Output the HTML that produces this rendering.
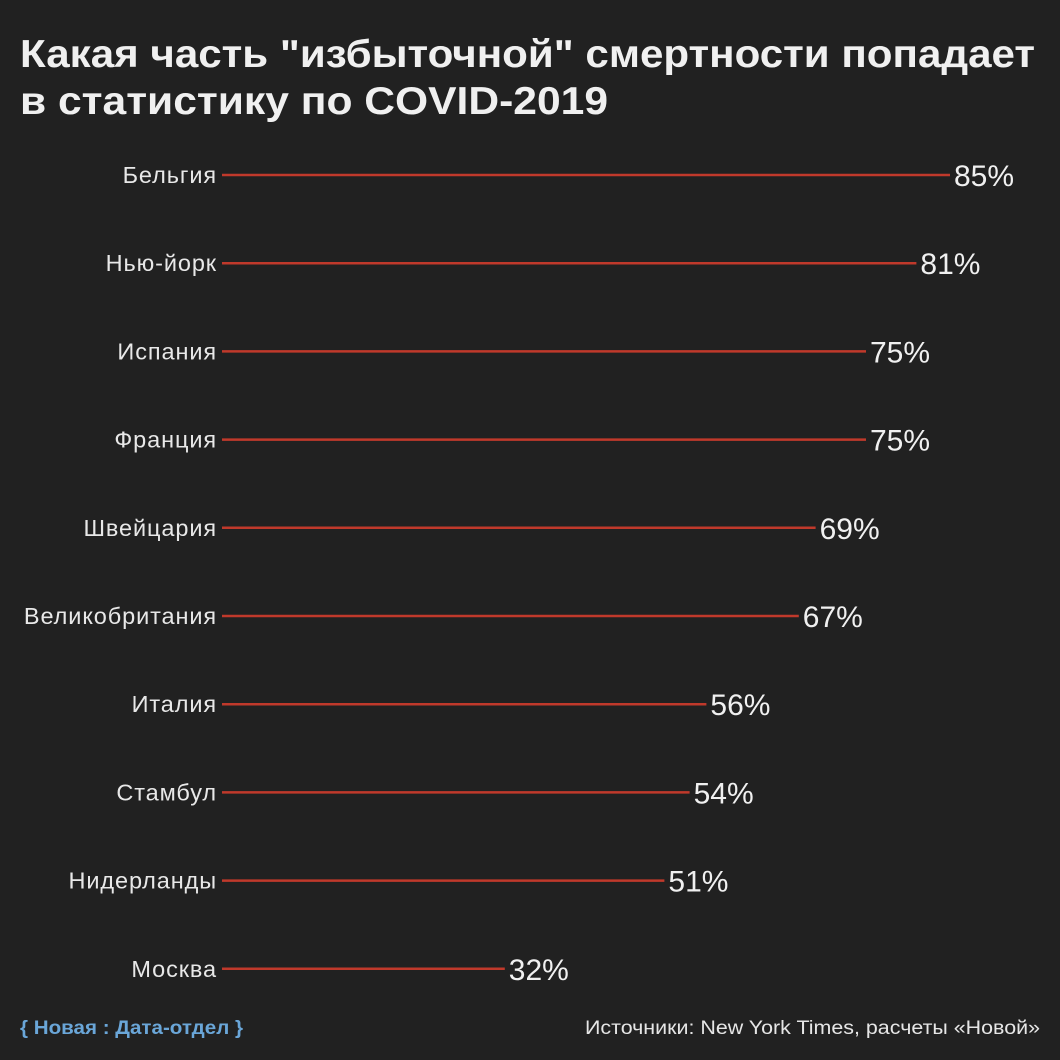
<!DOCTYPE html>
<html><head><meta charset="utf-8"><style>
body{margin:0;background:#212121;}
svg{display:block;font-family:"Liberation Sans","DejaVu Sans",sans-serif;}
</style></head><body>
<svg id="chart" width="1060" height="1060">
<rect width="1060" height="1060" fill="#212121"/>
<text x="20" y="67" font-size="39" font-weight="bold" fill="#f0f0f0" textLength="1015" lengthAdjust="spacingAndGlyphs">Какая часть "избыточной" смертности попадает</text>
<text x="20" y="114" font-size="39" font-weight="bold" fill="#f0f0f0" textLength="588" lengthAdjust="spacingAndGlyphs">в статистику по COVID-2019</text>
<g id="rows"></g>
<text x="20" y="1034" font-size="19" font-weight="bold" fill="#6aa6d8" textLength="223" lengthAdjust="spacingAndGlyphs">{ Новая : Дата-отдел }</text>
<text x="585" y="1034" font-size="19" fill="#e6e6e6" textLength="455" lengthAdjust="spacingAndGlyphs">Источники: New York Times, расчеты «Новой»</text>
</svg>
<script>
const categories=["Бельгия","Нью-йорк","Испания","Франция","Швейцария","Великобритания","Италия","Стамбул","Нидерланды","Москва"];
const values=[85,81,75,75,69,67,56,54,51,32];
const valueLabels=["85%","81%","75%","75%","69%","67%","56%","54%","51%","32%"];
const ns="http://www.w3.org/2000/svg";
const g=document.getElementById("rows");
const x=v=>236+v*8.4;
const y=i=>175+i*88.2;
categories.forEach((c,i)=>{
  const l=document.createElementNS(ns,"text");
  l.setAttribute("x",217);l.setAttribute("y",y(i)+8);l.setAttribute("font-size","23.5");
  l.setAttribute("letter-spacing","0.9");
  l.setAttribute("fill","#e8e8e8");l.setAttribute("text-anchor","end");l.textContent=c;
  
  
  g.appendChild(l);
  const ln=document.createElementNS(ns,"line");
  ln.setAttribute("x1",222);ln.setAttribute("x2",x(values[i]));ln.setAttribute("y1",y(i));ln.setAttribute("y2",y(i));
  ln.setAttribute("stroke","#c0392b");ln.setAttribute("stroke-width","2.5");
  
  
  g.appendChild(ln);
  const t=document.createElementNS(ns,"text");
  t.setAttribute("x",x(values[i])+4);t.setAttribute("y",y(i)+11);t.setAttribute("font-size","30");
  t.setAttribute("fill","#f0f0f0");t.textContent=valueLabels[i];
  
  
  g.appendChild(t);
});
</script>
</body></html>
